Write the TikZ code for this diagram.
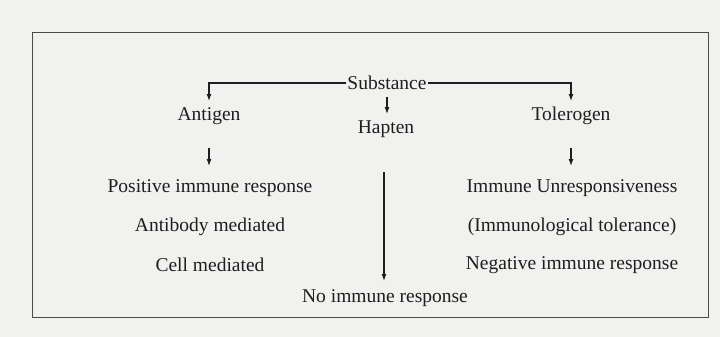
\documentclass[tikz,border=0pt]{standalone}
\usepackage{fontspec}
\setmainfont{Liberation Serif}
\usetikzlibrary{arrows.meta}
\definecolor{paper}{HTML}{F1F1EF}
\definecolor{ink}{HTML}{1E1E1E}
\definecolor{frame}{HTML}{4A4A4A}
\tikzset{
  term/.style={text=ink,inner sep=1pt,font=\fontsize{19.5}{22}\selectfont},
  flow/.style={-{Latex[length=2.4mm,width=1.7mm]},draw=ink,line width=1.1pt},
  panel/.style={draw=frame,line width=1pt}}

\begin{document}
\begin{tikzpicture}[x=1pt,y=-1pt]
  \fill[paper] (0,0) rectangle (720,337);
  \useasboundingbox (0,0) rectangle (720,337);
  \draw[panel] (32,33) rectangle (708,317);
  % top row
  \node[term] (sub) at (387,83) {Substance};
  \node[term] (ag) at (209,116) {Antigen};
  \node[term] (tg) at (571,116) {Tolerogen};
  \node[term] (hp) at (386,129) {Hapten};
  % left column
  \node[term] (pos) at (210,188) {Positive immune response};
  \node[term] (ab) at (210,227) {Antibody mediated};
  \node[term] (cm) at (210,265) {Cell mediated};
  % right column
  \node[term] (un) at (572,188) {Immune Unresponsiveness};
  \node[term] (tol) at (572,227) {(Immunological tolerance)};
  \node[term] (neg) at (572,265) {Negative immune response};
  \node[term] (no) at (385,298) {No immune response};
  % arrow ends
  \coordinate (agtip) at (209,101);
  \coordinate (tgtip) at (571,101);
  \coordinate (hptop) at (387,97);
  \coordinate (hptip) at (387,114);
  \coordinate (agdown) at (209,148);
  \coordinate (agtip2) at (209,166);
  \coordinate (tgdown) at (571,148);
  \coordinate (tgtip2) at (571,166);
  \coordinate (hpdown) at (384,172);
  \coordinate (notip) at (384,281);
  % connectors
  \draw[flow] (sub.west) -| (agtip);
  \draw[flow] (sub.east) -| (tgtip);
  \draw[flow] (hptop) -- (hptip);
  \draw[flow] (agdown) -- (agtip2);
  \draw[flow] (tgdown) -- (tgtip2);
  \draw[flow] (hpdown) -- (notip);
\end{tikzpicture}
\end{document}
